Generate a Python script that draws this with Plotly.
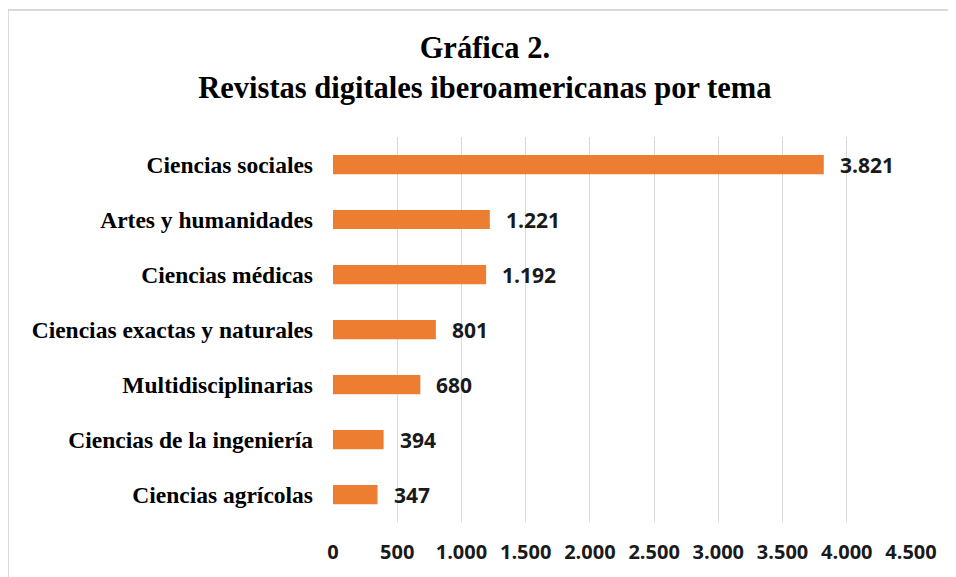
import plotly.graph_objects as go

categories = ["Ciencias sociales", "Artes y humanidades", "Ciencias médicas",
              "Ciencias exactas y naturales", "Multidisciplinarias",
              "Ciencias de la ingeniería", "Ciencias agrícolas"]
values = [3821, 1221, 1192, 801, 680, 394, 347]
tick_values = [0, 500, 1000, 1500, 2000, 2500, 3000, 3500, 4000, 4500]
tick_labels = ["0", "500", "1.000", "1.500", "2.000", "2.500", "3.000", "3.500", "4.000", "4.500"]

def fmt(v):
    return f"{v:,}".replace(",", ".")

# page has an 8px body margin; work in figure coordinates
OFF = 8
W, H = 956 - OFF, 577 - OFF
L, R, T, B = 333 - OFF, 911 - OFF, 137 - OFF, 522 - OFF

fig = go.Figure()
fig.add_trace(go.Bar(
    x=values, y=categories, orientation="h",
    marker=dict(color="#ED7D31", line=dict(width=0)),
    hoverinfo="skip",
))

for v, c in zip(values, categories):
    fig.add_annotation(x=v, y=c, xref="x", yref="y", text=fmt(v),
                       showarrow=False, xanchor="left", yanchor="middle",
                       xshift=14,
                       font=dict(family="Open Sans", size=21, color="#1a1a1a", weight="bold"))

def px_x(p):
    return (p - OFF - L) / (R - L)

def px_y(p):
    return (B - (p - OFF)) / (B - T)

fig.add_shape(type="rect", xref="paper", yref="paper",
              x0=px_x(8), x1=px_x(949), y0=px_y(600), y1=px_y(10),
              line=dict(color="#d9d9d9", width=2), fillcolor="rgba(0,0,0,0)", layer="below")

fig.update_layout(
    width=W, height=H,
    margin=dict(l=L, r=W - R, t=T, b=H - B, pad=0, autoexpand=False),
    paper_bgcolor="white", plot_bgcolor="white",
    bargap=0.65,
    showlegend=False,
    title=dict(text="<b>Gráfica 2.<br>Revistas digitales iberoamericanas por tema</b>",
               x=0.503, xanchor="center", y=1 - 50 / H, yanchor="top", yref="container",
               font=dict(family="Liberation Serif", size=30.5, color="black")),
    xaxis=dict(range=[0, 4500], tickvals=tick_values, ticktext=tick_labels,
               showgrid=True, gridcolor="#d9d9d9", gridwidth=1,
               zeroline=False, showline=False, ticks="",
               ticklabelstandoff=16, automargin=False,
               tickfont=dict(family="Open Sans", size=20, color="#1a1a1a", weight="bold"),
               fixedrange=True),
    yaxis=dict(categoryorder="array", categoryarray=categories, autorange="reversed",
               showgrid=False, zeroline=False, showline=False, ticks="",
               ticklabelstandoff=19, automargin=False,
               tickfont=dict(family="Liberation Serif", size=23.5, color="black", weight="bold"),
               fixedrange=True),
)

fig.write_html("out.html")
